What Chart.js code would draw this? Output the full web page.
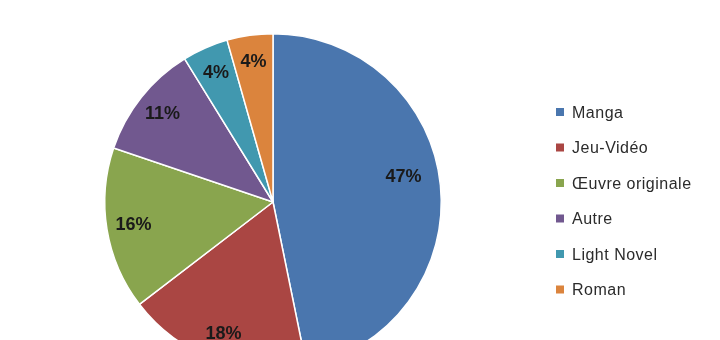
<!DOCTYPE html>
<html>
<head>
<meta charset="utf-8">
<script src="https://cdn.jsdelivr.net/npm/chart.js@4/dist/chart.umd.min.js"></script>
<style>
  html, body { margin: 0; padding: 0; background: #fff; overflow: hidden; }
  #wrap { width: 720px; height: 340px; overflow: hidden; }
</style>
</head>
<body>
<div id="wrap"><canvas id="chart" width="720" height="404"></canvas></div>
<script>
// Categories and shares
var categories = ['Manga', 'Jeu-Vidéo', 'Œuvre originale', 'Autre', 'Light Novel', 'Roman'];
var shares = [46.8, 17.8, 15.6, 11.0, 4.4, 4.4];
var colours = ['#4A76AE', '#AA4643', '#89A54E', '#71588F', '#4198AF', '#DB843D'];

// Percent labels placed inside each slice
var sliceLabels = {
  id: 'sliceLabels',
  afterDatasetsDraw: function(chart) {
    var ctx = chart.ctx;
    var meta = chart.getDatasetMeta(0);
    var total = shares.reduce(function(a, b) { return a + b; }, 0);
    ctx.save();
    ctx.font = 'bold 18px "Liberation Sans", Arial, sans-serif';
    ctx.fillStyle = '#1a1a1a';
    ctx.textAlign = 'center';
    ctx.textBaseline = 'middle';
    meta.data.forEach(function(arc, i) {
      var mid = (arc.startAngle + arc.endAngle) / 2;
      // big slice label sits a bit closer in and higher, like Excel's best fit
      var frac = i === 0 ? 0.79 : 0.84;
      if (i === 0) mid -= 0.09;
      var r = arc.outerRadius * frac;
      var x = arc.x + Math.cos(mid) * r;
      var y = arc.y + Math.sin(mid) * r;
      ctx.fillText(Math.round(shares[i] / total * 100) + '%', x, y);
    });
    ctx.restore();
  }
};

// Legend on the right, drawn by hand
var sideLegend = {
  id: 'sideLegend',
  afterDraw: function(chart) {
    var ctx = chart.ctx;
    ctx.save();
    ctx.font = '16px "Liberation Sans", Arial, sans-serif';
    ctx.letterSpacing = '0.5px';
    ctx.textBaseline = 'alphabetic';
    categories.forEach(function(name, i) {
      var top = 108 + i * 35.5;
      ctx.fillStyle = colours[i];
      ctx.fillRect(556, top, 8, 8);
      ctx.fillStyle = '#2b2b2b';
      ctx.fillText(name, 572, top + 9.5);
    });
    ctx.restore();
  }
};

var pie_chart = new Chart('chart', {
  type: 'pie',
  data: {
    labels: categories,
    datasets: [{
      data: shares,
      backgroundColor: colours,
      borderColor: '#ffffff',
      borderWidth: 1.5
    }]
  },
  options: {
    responsive: false,
    animation: false,
    layout: { padding: { left: 104, right: 278, top: 33, bottom: 33 } },
    plugins: {
      legend: { display: false },
      tooltip: { enabled: false }
    }
  },
  plugins: [sliceLabels, sideLegend]
});
</script>
</body>
</html>
